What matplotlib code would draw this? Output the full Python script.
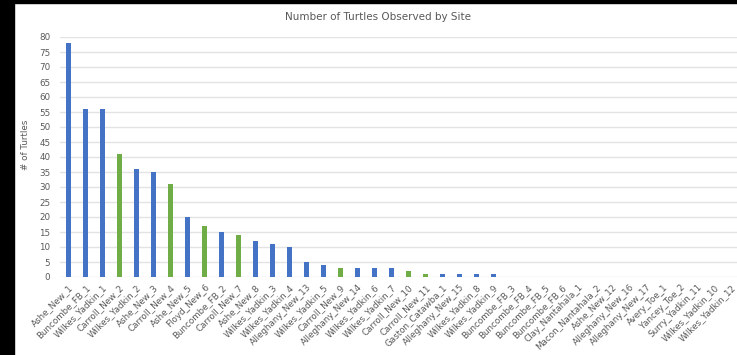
import matplotlib

matplotlib.use("Agg")
import matplotlib.pyplot as plt  # noqa: E402
from matplotlib.patches import Rectangle  # noqa: E402

sites = [
    "Ashe_New_1", "Buncombe_FB_1", "Wilkes_Yadkin_1", "Carroll_New_2",
    "Wilkes_Yadkin_2", "Ashe_New_3", "Carroll_New_4", "Ashe_New_5",
    "Floyd_New_6", "Buncombe_FB_2", "Carroll_New_7", "Ashe_New_8",
    "Wilkes_Yadkin_3", "Wilkes_Yadkin_4", "Alleghany_New_13", "Wilkes_Yadkin_5",
    "Carroll_New_9", "Alleghany_New_14", "Wilkes_Yadkin_6", "Wilkes_Yadkin_7",
    "Carroll_New_10", "Carroll_New_11", "Gaston_Catawba_1", "Alleghany_New_15",
    "Wilkes_Yadkin_8", "Wilkes_Yadkin_9", "Buncombe_FB_3", "Buncombe_FB_4",
    "Buncombe_FB_5", "Buncombe_FB_6", "Clay_Nantahala_1", "Macon_Nantahala_2",
    "Ashe_New_12", "Alleghany_New_16", "Alleghany_New_17", "Avery_Toe_1",
    "Yancey_Toe_2", "Surry_Yadkin_11", "Wilkes_Yadkin_10", "Wilkes_Yadkin_12",
]
turtles = [
    78, 56, 56, 41, 36, 35, 31, 20, 17, 15, 14, 12, 11, 10, 5, 4, 3, 3, 3, 3,
    2, 1, 1, 1, 1, 1, 0, 0, 0, 0, 0, 0, 0, 0, 0, 0, 0, 0, 0, 0,
]
# green marks the Carroll/Floyd sites
highlight = [
    False, False, False, True, False, False, True, False, True, False,
    True, False, False, False, False, False, True, False, False, False,
    True, True, False, False, False, False, False, False, False, False,
    False, False, False, False, False, False, False, False, False, False,
]
y_ticks = list(range(0, 81, 5))

BLUE = "#4472C4"
GREEN = "#70AD47"
GREY = "#595959"

W, H = 737, 355
fig = plt.figure(figsize=(W / 100, H / 100), dpi=100)

# plot area in pixels: left 60, right ~740, top 37 (=80), bottom 277 (=0)
left, right, top, bottom = 60, 740, 37, 277
ax = fig.add_axes([left / W, 1 - bottom / H, (right - left) / W, (bottom - top) / H])

colors = [GREEN if h else BLUE for h in highlight]
x = range(len(sites))
ax.bar(x, turtles, width=0.32, color=colors, zorder=3)

ax.set_xlim(-0.5, len(sites) - 0.5)
ax.set_ylim(0, 80)
ax.set_yticks(y_ticks)
ax.yaxis.grid(True, color="#E3E3E3", linewidth=1.0, zorder=0)
for s in ax.spines.values():
    s.set_visible(False)
ax.tick_params(axis="both", length=0, colors=GREY, labelsize=6.3)
ax.tick_params(axis="y", pad=7)
ax.set_xticks(list(x))
ax.set_xticklabels(sites, rotation=45, ha="right", rotation_mode="anchor",
                   fontsize=6.3, color=GREY)
ax.tick_params(axis="x", pad=4)
ax.set_ylabel("# of Turtles", fontsize=6.3, color=GREY)
ax.yaxis.set_label_coords((30 - left) / (right - left), 0.55)

fig.text(378 / W, 1 - 17 / H, "Number of Turtles Observed by Site",
         ha="center", va="center", fontsize=7.5, color=GREY)

# black frame strips from the screenshot
fig.add_artist(Rectangle((0, 0), 14 / W, 1, transform=fig.transFigure,
                         color="black", zorder=10))
fig.add_artist(Rectangle((0, 1 - 3 / H), 1, 3 / H, transform=fig.transFigure,
                         color="black", zorder=10))

fig.savefig("out.png", dpi=100)
